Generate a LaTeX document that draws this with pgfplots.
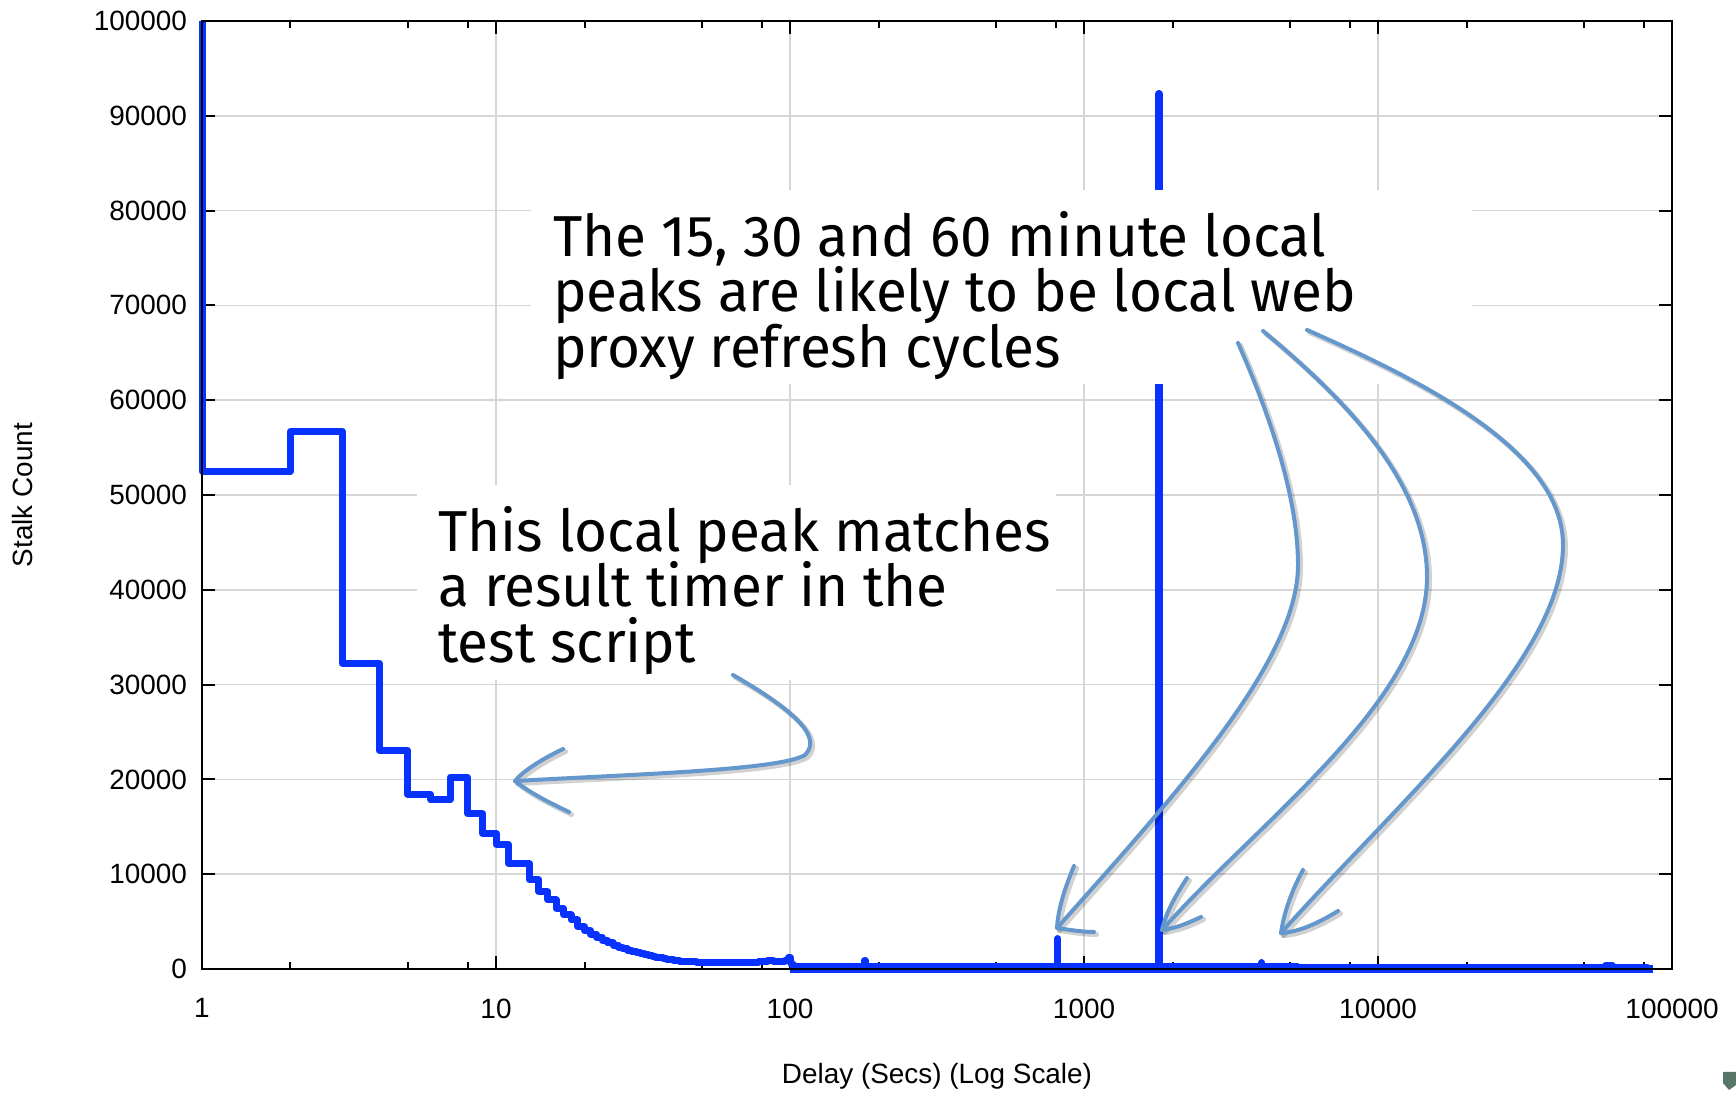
\documentclass[border=0pt]{standalone}
\usepackage{fontspec}
\setmainfont{Liberation Sans}
\newfontfamily\hand[FakeStretch=0.98]{Fira Sans}
\usepackage{pgfplots}
\pgfplotsset{compat=1.18}
\definecolor{plotblue}{RGB}{8,50,255}
\definecolor{arrowblue}{RGB}{100,152,204}
\definecolor{gridgray}{RGB}{214,214,214}
\definecolor{shieldgray}{RGB}{88,118,104}
\newcommand{\handfont}{\hand\fontsize{58}{56}\selectfont}
\def\arrowP{(733,675) .. controls (785,705) and (825,735) .. (805,755) .. controls (780,770) and (640,774) .. (515,781)}
\def\arrowPh{(563,749) .. controls (540,760) and (522,772) .. (515,781) .. controls (530,793) and (550,803) .. (569,812)}
\def\arrowA{(1238,343) .. controls (1272,420) and (1298,500) .. (1298,565) .. controls (1298,660) and (1180,790) .. (1057,928)}
\def\arrowAh{(1074,866) .. controls (1064,890) and (1058,910) .. (1057,928) .. controls (1070,930) and (1083,932) .. (1094,932)}
\def\arrowB{(1263,331) .. controls (1340,395) and (1427,480) .. (1427,577) .. controls (1427,700) and (1260,820) .. (1162,930)}
\def\arrowBh{(1187,878) .. controls (1176,895) and (1166,912) .. (1162,930) .. controls (1178,928) and (1190,922) .. (1201,917)}
\def\arrowC{(1307,330) .. controls (1420,380) and (1563,450) .. (1563,545) .. controls (1563,660) and (1400,800) .. (1281,933)}
\def\arrowCh{(1303,870) .. controls (1292,890) and (1284,912) .. (1281,933) .. controls (1300,932) and (1320,922) .. (1338,911)}
\begin{document}
\begin{tikzpicture}
\begin{scope}[shift={(-202bp,969bp)}, x=1bp, y=-1bp]
\path[use as bounding box] (0,0) rectangle (1736,1090);
\end{scope}
\begin{axis}[
 scale only axis, width=1470bp, height=948bp,
 xmode=log, xmin=1, xmax=100000, ymin=0, ymax=100000,
 xtick={1,10,100,1000,10000,100000},
 xticklabels={1,10,100,1000,10000,100000},
 minor xtick={2,5,8,20,50,80,200,500,800,2000,5000,8000,20000,50000,80000},
 ytick={0,10000,20000,30000,40000,50000,60000,70000,80000,90000,100000},
 yticklabels={0,10000,20000,30000,40000,50000,60000,70000,80000,90000,100000},
 scaled y ticks=false,
 grid=major, major grid style={draw=gridgray, line width=1.6bp},
 axis line style={line width=2.5bp},
 tick style={black, line width=2bp},
 major tick length=13bp, minor tick length=7bp,
 tick label style={font=\fontsize{28}{34}\selectfont, black},
 /pgf/number format/assume math mode=true,
 xticklabel style={yshift=-26bp},
 yticklabel style={xshift=-11.5bp},
 xlabel={Delay (Secs) (Log Scale)}, ylabel={Stalk Count},
 label style={font=\fontsize{28}{34}\selectfont, black},
 xlabel style={at={(axis description cs:0.5,-0.1130)}, anchor=center},
 ylabel style={at={(axis description cs:-0.1224,0.5)}, anchor=center},
 clip=false,
]
% counts of zero in the long tail
\addplot[const plot mark right, plotblue, line width=7bp, no marks] coordinates {
(100,0)(1000,0)(10000,0)(86300,0)
};
\addplot[const plot mark right, plotblue, line width=7bp, line join=round, no marks] coordinates {
(1,100000)(2,52500)(3,56700)(4,32250)(5,23100)(6,18450)(7,17850)(8,20250)(9,16400)(10,14300)
(11,13150)(12,11150)(13,11100)(14,9400)(15,8150)(16,7280)(17,6400)(18,5700)(19,5170)(20,4470)
(21,4050)(22,3680)(23,3330)(24,3020)(25,2750)(26,2520)(27,2320)(28,2150)(29,2000)(30,1860)
(31,1730)(32,1610)(33,1500)(34,1400)(35,1320)(36,1240)(37,1170)(38,1110)(40,1040)(42,930)
(45,840)(48,770)(52,720)(56,690)(60,670)(66,660)(72,680)(78,710)(84,750)(88,880)(90,760)
(96,780)(99,850)(100,1250)(101,700)(103,450)
(109,250)(115,240)(121,250)(128,240)(135,230)(143,240)(151,230)(159,240)(168,230)(175,230)(179,230)
(180,900)(181,230)(188,230)(199,240)(210,240)(222,230)(234,230)(247,220)(261,220)(276,230)(291,230)
(308,220)(325,220)(343,230)(363,230)(383,220)(405,220)(427,230)(451,230)(477,220)(503,220)(532,230)
(562,230)(593,220)(627,220)(662,230)(699,230)(739,220)(780,220)(814,230)(815,3200)(816,230)(824,230)
(870,220)(919,220)(971,230)(1026,230)(1084,220)(1145,220)(1209,230)(1277,230)(1349,220)(1425,220)
(1505,230)(1590,230)(1680,220)(1775,220)(1799,220)(1800,92300)(1801,220)(1875,220)(1980,230)(2092,230)
(2210,220)(2334,220)(2466,230)(2605,230)(2752,220)(2907,220)(3071,230)(3244,230)(3426,220)(3620,220)
(3824,220)(4024,230)(4025,650)(4026,220)(4268,220)(4508,220)(4762,230)(5031,220)(5314,220)(5614,210)
(5930,210)(6265,210)(6618,200)(6991,200)(7385,200)(7801,190)(8241,190)(8706,190)(9197,180)(9715,180)
(10263,170)(10841,170)(11453,160)(12098,160)(12780,160)(13501,150)(14262,150)(15066,150)(15916,150)
(16813,140)(17761,140)(18762,140)(19820,140)(20937,140)(22118,130)(23365,130)(24682,130)(26074,130)
(27544,130)(29097,130)(30737,120)(32470,120)(34301,120)(36235,120)(38278,120)(40436,120)(42716,120)
(45124,120)(47668,120)(50356,110)(53195,110)(56194,110)(59362,110)(62709,350)(63000,110)(66245,110)
(69980,110)(73925,110)(78093,110)(82496,110)(86300,100)
};
\draw[black, line width=2.5bp] (rel axis cs:0,0) rectangle (rel axis cs:1,1);
\end{axis}
\begin{scope}[shift={(-202bp,969bp)}, x=1bp, y=-1bp]
\fill[white] (531,190) rectangle (1472,384);
\fill[white] (417,485) rectangle (1056,680);
\node[anchor=base west, inner sep=0, font=\handfont] at (553,257) {The 15, 30 and 60 minute local};
\node[anchor=base west, inner sep=0, font=\handfont] at (553,312) {peaks are likely to be local web};
\node[anchor=base west, inner sep=0, font=\handfont] at (553,368) {proxy refresh cycles};
\node[anchor=base west, inner sep=0, font=\handfont] at (438,552) {This local peak matches};
\node[anchor=base west, inner sep=0, font=\handfont] at (438,607) {a result timer in the};
\node[anchor=base west, inner sep=0, font=\handfont] at (438,663) {test script};
\begin{scope}[shift={(2.5bp,-2.5bp)}]
\foreach \p in {\arrowP,\arrowPh,\arrowA,\arrowAh,\arrowB,\arrowBh,\arrowC,\arrowCh}{
  \draw[black, opacity=0.18, line width=5bp, line cap=round, line join=round] \p;
}
\end{scope}
\foreach \p in {\arrowP,\arrowPh,\arrowA,\arrowAh,\arrowB,\arrowBh,\arrowC,\arrowCh}{
  \draw[arrowblue, line width=4bp, line cap=round, line join=round] \p;
}
\fill[shieldgray] (1723,1072) -- (1736,1072) -- (1736,1085) -- (1729,1090) -- (1723,1083) -- cycle;
\end{scope}
\end{tikzpicture}
\end{document}
